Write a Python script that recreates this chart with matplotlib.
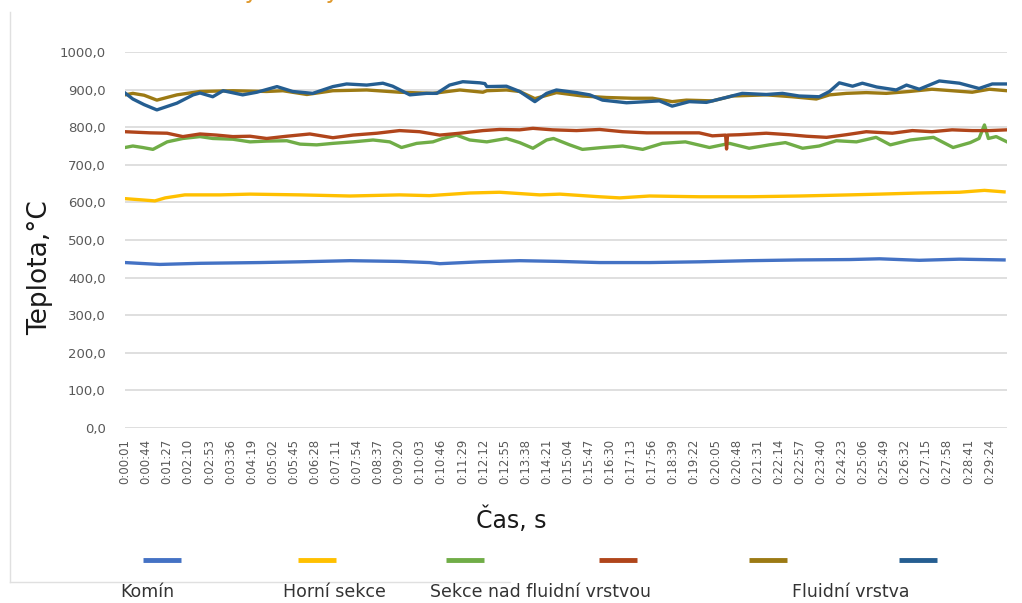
import matplotlib
matplotlib.use("Agg")
import matplotlib.pyplot as plt
from matplotlib.lines import Line2D

# time (s) / temperature (°C) readings for each measuring point
komin_t = [1, 72, 154, 276, 358, 460, 561, 622, 643, 725, 806, 888, 969, 1071, 1173,
           1275, 1377, 1479, 1540, 1621, 1703, 1794]
komin_v = [440, 435, 438, 440, 442, 445, 443, 440, 437, 442, 445, 443, 440, 440, 442,
           445, 447, 448, 450, 446, 449, 447]

horni_t = [1, 32, 62, 83, 123, 195, 256, 358, 460, 561, 622, 704, 765, 847, 888, 969,
           1010, 1071, 1173, 1275, 1377, 1479, 1540, 1621, 1703, 1754, 1794]
horni_v = [610, 607, 604, 612, 620, 620, 622, 620, 617, 620, 618, 625, 627, 620, 622, 615,
           612, 617, 615, 615, 617, 620, 622, 625, 627, 632, 628]

sekce_t = [1, 17, 37, 58, 87, 119, 154, 180, 221, 256, 290, 331, 358, 392, 425, 466,
           507, 541, 565, 596, 629, 649, 677, 704, 739, 779, 806, 833, 861, 875, 908,
           934, 975, 1016, 1057, 1097, 1144, 1193, 1234, 1274, 1315, 1348, 1383, 1417,
           1452, 1493, 1533, 1562, 1603, 1650, 1690, 1725, 1743, 1754, 1762, 1778, 1800]
sekce_v = [746, 750, 746, 741, 761, 770, 775, 770, 768, 761, 763, 764, 755, 753, 757, 761,
           766, 761, 746, 757, 761, 770, 779, 766, 761, 770, 759, 744, 766, 770, 753,
           741, 746, 750, 741, 757, 761, 746, 757, 744, 753, 759, 744, 750,
           764, 761, 773, 753, 766, 773, 746, 759, 770, 806, 770, 775, 761]

red_t = [1, 52, 87, 119, 154, 188, 221, 256, 290, 331, 378, 425, 466, 515, 561, 602,
         643, 684, 731, 765, 806, 833, 873, 922, 969, 1016, 1065, 1117, 1172, 1199, 1226,
         1228, 1230, 1254, 1309, 1356, 1391, 1432, 1472, 1513, 1566, 1607, 1647, 1688,
         1729, 1764, 1800]
red_v = [788, 785, 784, 775, 782, 779, 775, 776, 770, 776, 782, 772, 779, 784, 791, 788,
         779, 784, 791, 794, 793, 797, 793, 791, 794, 788, 785, 785, 785, 777, 779,
         742, 779, 780, 784, 780, 776, 773, 780, 788, 784, 791, 788, 793,
         791, 791, 793]

gold_t = [1, 17, 40, 66, 107, 154, 221, 290, 323, 372, 425, 494, 561, 629, 684, 731, 739,
          779, 806, 837, 881, 934, 983, 1036, 1077, 1117, 1146, 1199, 1240, 1309, 1362,
          1411, 1438, 1472, 1513, 1554, 1601, 1647, 1688, 1729, 1764, 1800]
gold_v = [886, 890, 885, 872, 886, 895, 897, 895, 897, 887, 897, 899, 893, 890, 899, 893, 897,
          899, 895, 876, 892, 883, 879, 877, 877, 868, 872, 870, 883, 886, 881,
          875, 886, 890, 892, 890, 895, 901, 897, 893, 901, 897]

fluid_t = [1, 17, 40, 66, 107, 140, 154, 180, 201, 241, 270, 311, 343, 384, 425, 453, 494,
           527, 547, 582, 616, 637, 663, 690, 725, 735, 739, 779, 806, 837, 861, 881, 922,
           949, 975, 1024, 1065, 1091, 1117, 1152, 1187, 1227, 1260, 1309, 1342, 1376,
           1417, 1438, 1458, 1485, 1505, 1534, 1574, 1595, 1621, 1662, 1703, 1743, 1770, 1800]
fluid_v = [891, 875, 860, 846, 864, 886, 891, 881, 897, 886, 893, 908, 895, 890, 908, 915, 912,
           917, 909, 886, 890, 890, 912, 921, 918, 916, 908, 909, 895, 868, 890, 899, 892,
           886, 872, 865, 868, 870, 856, 868, 866, 879, 890, 887, 890, 883,
           881, 895, 918, 909, 917, 907, 899, 912, 901, 923, 917, 903, 915, 915]

series = [
    ("Komín", komin_t, komin_v, "#4472C4"),
    ("Horní sekce", horni_t, horni_v, "#FFC000"),
    ("Sekce nad fluidní vrstvou", sekce_t, sekce_v, "#70AD47"),
    ("", red_t, red_v, "#B0451B"),
    ("", gold_t, gold_v, "#9C7A14"),
    ("Fluidní vrstva", fluid_t, fluid_v, "#255E91"),
]

time_labels = ["0:00:01", "0:00:44", "0:01:27", "0:02:10", "0:02:53", "0:03:36", "0:04:19",
               "0:05:02", "0:05:45", "0:06:28", "0:07:11", "0:07:54", "0:08:37", "0:09:20",
               "0:10:03", "0:10:46", "0:11:29", "0:12:12", "0:12:55", "0:13:38", "0:14:21",
               "0:15:04", "0:15:47", "0:16:30", "0:17:13", "0:17:56", "0:18:39", "0:19:22",
               "0:20:05", "0:20:48", "0:21:31", "0:22:14", "0:22:57", "0:23:40", "0:24:23",
               "0:25:06", "0:25:49", "0:26:32", "0:27:15", "0:27:58", "0:28:41", "0:29:24"]


def to_sec(s):
    h, m, sec = s.split(":")
    return int(h) * 3600 + int(m) * 60 + int(sec)


tick_pos = [to_sec(s) for s in time_labels]
y_ticks = list(range(0, 1001, 100))

W, H = 1022, 603
fig = plt.figure(figsize=(W / 100, H / 100), dpi=100)
ax = fig.add_axes([125 / W, 1 - 428 / H, (1007 - 125) / W, 376 / H])

for name, t, v, c in series:
    ax.plot(t, v, color=c, lw=2.4, solid_joinstyle="round")

ax.set_xlim(1, 1800)
ax.set_ylim(0, 1000)
ax.set_yticks(y_ticks)
ax.set_yticklabels([f"{y:.1f}".replace(".", ",") for y in y_ticks])
ax.set_xticks(tick_pos)
ax.set_xticklabels(time_labels, rotation=90)
ax.tick_params(axis="both", length=0, colors="#595959")
ax.tick_params(axis="y", labelsize=9.5, pad=14)
ax.tick_params(axis="x", labelsize=8.5, pad=8)
ax.grid(axis="y", color="#D9D9D9", lw=1.2)
ax.set_axisbelow(True)
for sp in ax.spines.values():
    sp.set_visible(False)

fig.text(40 / W, 1 - 268 / H, "Teplota,°C", rotation=90, fontsize=19,
         ha="center", va="center", color="#1a1a1a")
fig.text(511 / W, 1 - 520 / H, "Čas, s", fontsize=17, ha="center", va="center",
         color="#1a1a1a")

# title sits above the top edge, only the descenders show
fig.text(340 / W, 1 + 2 / H, "Měřené hodnoty vrstvy", fontsize=17, color="#E09A2E",
         ha="right", va="baseline")

# chart frame
fig.add_artist(Line2D([10 / W, 10 / W], [1 - 12 / H, 1 - 582 / H], color="#E0E0E0", lw=1))
fig.add_artist(Line2D([10 / W, 510 / W], [1 - 582 / H, 1 - 582 / H], color="#E0E0E0", lw=1))

# legend: colour swatches with names underneath
swatch_x = [162, 317, 465, 618, 768, 918]
text_x = [120, 283, 430, 600, 750, 792]
for (name, t, v, c), sx, tx in zip(series, swatch_x, text_x):
    fig.add_artist(Line2D([(sx - 19) / W, (sx + 19) / W], [1 - 560 / H, 1 - 560 / H],
                          color=c, lw=3.5, solid_capstyle="butt"))
    if name:
        fig.text(tx / W, 1 - 592 / H, name, fontsize=12.5, color="#333333",
                 ha="left", va="center")

fig.savefig("out.png", dpi=100)
